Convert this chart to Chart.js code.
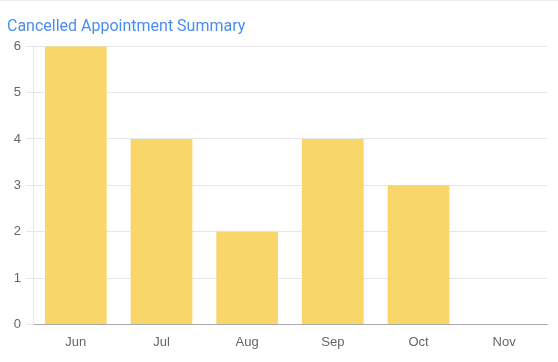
<!DOCTYPE html>
<html>
<head>
<meta charset="utf-8">
<script src="https://cdn.jsdelivr.net/npm/chart.js@4/dist/chart.umd.min.js"></script>
<style>
  html, body { margin: 0; padding: 0; background: #fff; }
  #wrap { width: 558px; height: 362px; position: relative; box-sizing: border-box; border-top: 1px solid #ececec; }
</style>
</head>
<body>
<div id="wrap"><canvas id="cancelChart"></canvas></div>
<script>
const months = ['Jun', 'Jul', 'Aug', 'Sep', 'Oct', 'Nov'];
const cancelled = [6, 4, 2, 4, 3, 0];
const yTicks = [0, 1, 2, 3, 4, 5, 6];

const tickFont = { family: "'Liberation Sans', Arial, sans-serif", size: 13 };

const ctx = document.getElementById('cancelChart').getContext('2d');

const cancelChart = new Chart(ctx, {
  type: 'bar',
  data: {
    labels: months,
    datasets: [{
      label: 'Cancelled',
      data: cancelled,
      backgroundColor: '#f8d66a',
      borderWidth: 0
    }]
  },
  options: {
    responsive: true,
    maintainAspectRatio: false,
    animation: false,
    layout: { padding: { left: 7, right: 11, top: 6, bottom: 2 } },
    scales: {
      x: {
        grid: { display: false, drawTicks: false },
        border: { color: '#aaaaaa' },
        ticks: { color: '#666', padding: 10, font: tickFont }
      },
      y: {
        min: 0,
        max: 6,
        afterBuildTicks: axis => { axis.ticks = yTicks.map(v => ({ value: v })); },
        afterFit: axis => { axis.width = 26; },
        grid: { color: '#e6e6e6', tickLength: 7 },
        border: { color: '#e6e6e6' },
        ticks: { color: '#666', padding: 5, font: tickFont }
      }
    },
    plugins: {
      legend: { display: false },
      tooltip: { enabled: false },
      title: {
        display: true,
        text: 'Cancelled Appointment Summary',
        align: 'start',
        color: '#4a8df2',
        font: { family: 'Roboto', size: 16, weight: 'normal' },
        padding: { top: 10, bottom: 10 }
      }
    }
  }
});
</script>
</body>
</html>
